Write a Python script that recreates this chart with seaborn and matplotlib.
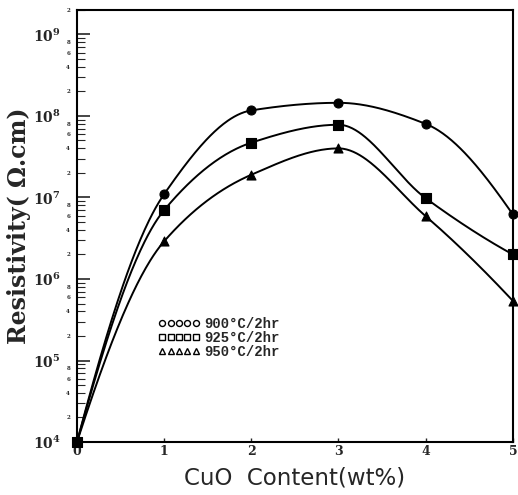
import numpy as np
import pandas as pd
import matplotlib
matplotlib.use("Agg")
import matplotlib.pyplot as plt
import seaborn as sns
from matplotlib.lines import Line2D

# ---- data ----
cuo = [0, 1, 2, 3, 4, 5]
r900 = [1.0e4, 1.1e7, 1.17e8, 1.45e8, 8.0e7, 6.2e6]
r925 = [1.0e4, 7.0e6, 4.7e7, 7.8e7, 9.8e6, 2.0e6]
r950 = [1.0e4, 2.9e6, 1.9e7, 4.0e7, 5.9e6, 5.4e5]
series_labels = ["900°C/2hr", "925°C/2hr", "950°C/2hr"]
markers = ["o", "s", "^"]
xtick_labels = ["0", "1", "2", "3", "4", "5"]
ytick_exps = [4, 5, 6, 7, 8, 9]


def pchip(x, y, xs):
    """Monotone piecewise cubic Hermite (Fritsch-Carlson), like scipy's PCHIP."""
    x = np.asarray(x, float); y = np.asarray(y, float)
    h = np.diff(x)
    d = np.diff(y) / h
    n = len(x)
    m = np.zeros(n)
    for k in range(1, n - 1):
        if d[k - 1] * d[k] <= 0:
            m[k] = 0.0
        else:
            w1 = 2 * h[k] + h[k - 1]
            w2 = h[k] + 2 * h[k - 1]
            m[k] = (w1 + w2) / (w1 / d[k - 1] + w2 / d[k])

    def edge(h0, h1, d0, d1):
        s = ((2 * h0 + h1) * d0 - h0 * d1) / (h0 + h1)
        if np.sign(s) != np.sign(d0):
            s = 0.0
        elif np.sign(d0) != np.sign(d1) and abs(s) > abs(3 * d0):
            s = 3 * d0
        return s

    m[0] = edge(h[0], h[1], d[0], d[1])
    m[-1] = edge(h[-1], h[-2], d[-1], d[-2])
    out = np.empty_like(xs)
    for j, xv in enumerate(xs):
        i = min(max(np.searchsorted(x, xv) - 1, 0), n - 2)
        t = (xv - x[i]) / h[i]
        h00 = 2 * t**3 - 3 * t**2 + 1
        h10 = t**3 - 2 * t**2 + t
        h01 = -2 * t**3 + 3 * t**2
        h11 = t**3 - t**2
        out[j] = h00 * y[i] + h10 * h[i] * m[i] + h01 * y[i + 1] + h11 * h[i] * m[i + 1]
    return out


sns.set_style("ticks")
plt.rcParams["font.family"] = ["DejaVu Serif"]
plt.rcParams["mathtext.fontset"] = "dejavuserif"

fig = plt.figure(figsize=(5.18, 4.95), dpi=100)
ax = fig.add_axes([0.1486, 0.107, 0.8414, 0.873])

xs = np.linspace(0, 5, 400)
for vals, lab, mk in zip([r900, r925, r950], series_labels, markers):
    ys = 10 ** pchip(cuo, np.log10(vals), xs)
    curve = pd.DataFrame({"x": xs, "y": ys})
    sns.lineplot(data=curve, x="x", y="y", ax=ax, color="black", lw=1.4,
                 sort=False, estimator=None)
    pts = pd.DataFrame({"x": cuo, "y": vals})
    sns.scatterplot(data=pts, x="x", y="y", ax=ax, marker=mk, color="black",
                    s=42, edgecolor="black", linewidth=0.8, zorder=3,
                    clip_on=False)

ax.set_yscale("log")
ax.set_xlim(0, 5)
ax.set_ylim(1e4, 2e9)

ax.set_xticks(cuo)
ax.set_xticklabels(xtick_labels, fontsize=9, fontweight="bold")
ax.set_yticks([10.0 ** e for e in ytick_exps])
ax.set_yticklabels([r"$\mathbf{10^{%d}}$" % e for e in ytick_exps], fontsize=10)
minor = []
minor_lab = []
for e in ytick_exps:
    for m in range(2, 10):
        v = m * 10.0 ** e
        if v <= 2e9:
            minor.append(v)
            minor_lab.append(str(m) if m in (2, 4, 6, 8) else "")
ax.set_yticks(minor, minor=True)
ax.set_yticklabels(minor_lab, minor=True, fontsize=4, fontweight="bold")
ax.tick_params(axis="y", which="major", direction="in", length=9, width=1.2, pad=12)
ax.tick_params(axis="y", which="minor", direction="in", length=6, width=0.8, pad=5)
ax.tick_params(axis="x", which="major", direction="in", length=3, width=1.0, pad=2)

for s in ax.spines.values():
    s.set_linewidth(1.5)
    s.set_color("black")

ax.set_xlabel("CuO  Content(wt%)", fontsize=16.5, family="DejaVu Sans", labelpad=6)
ax.set_ylabel("Resistivity( Ω.cm)", fontsize=17, fontweight="bold", labelpad=1)

handles = [Line2D([], [], linestyle="none", marker=mk, color="black",
                  markerfacecolor="white", markersize=4.3, markeredgewidth=1.0)
           for mk in markers]
leg = ax.legend(handles, series_labels, loc="upper left",
                bbox_to_anchor=(0.17, 0.305), frameon=False, numpoints=5,
                handlelength=3.0, handletextpad=0.35, labelspacing=0.0,
                borderpad=0,
                prop={"family": "Liberation Mono", "weight": "bold", "size": 10})

fig.savefig("out.png", dpi=100)
